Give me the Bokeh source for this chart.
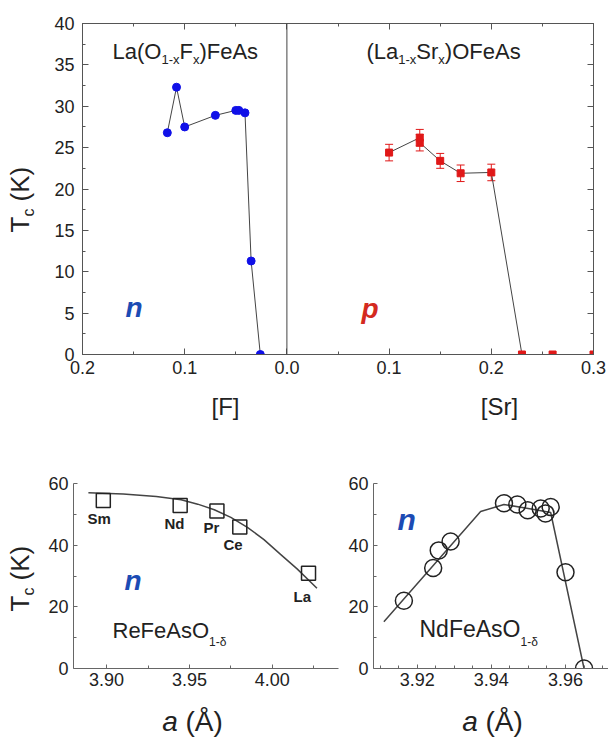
import math
from bokeh.plotting import figure
from bokeh.models import (Label, Span, Whisker, ColumnDataSource, FixedTicker, Range1d,
                          CustomJSTickFormatter, TeeHead, LinearAxis, NumeralTickFormatter)
from bokeh.layouts import column, row
from bokeh.embed import file_html
from bokeh.resources import INLINE

FONT = "Liberation Sans"

# ---------------- data ----------------
# La(O1-xFx)FeAs  (n-type, plotted to the left of 0)
f_conc = [0.117, 0.108, 0.100, 0.070, 0.050, 0.047, 0.041, 0.035, 0.026]
f_tc = [26.8, 32.3, 27.5, 28.9, 29.5, 29.5, 29.2, 11.3, 0.0]

# (La1-xSrx)OFeAs  (p-type)
sr_conc = [0.100, 0.130, 0.130, 0.150, 0.170, 0.200, 0.230, 0.260, 0.300]
sr_tc = [24.4, 26.2, 25.6, 23.4, 21.9, 22.0, 0.0, 0.0, 0.0]
sr_err = [1.0, 1.0, 1.0, 0.9, 1.0, 1.0, 0.0, 0.0, 0.0]

# ReFeAsO1-d
re_names = ["Sm", "Nd", "Pr", "Ce", "La"]
re_a = [3.898, 3.9444, 3.9666, 3.9804, 4.0219]
re_tc = [54.5, 52.9, 51.1, 45.9, 30.9]
re_fit_a = [3.889, 3.910, 3.930, 3.945, 3.955, 3.965, 3.975, 3.985, 3.995, 4.005, 4.015, 4.027]
re_fit_tc = [57.0, 56.6, 55.8, 54.7, 53.3, 51.5, 49.0, 45.8, 41.8, 37.0, 32.3, 26.0]

# NdFeAsO1-d
nd_a = [3.9164, 3.9243, 3.9258, 3.9290, 3.9434, 3.9470, 3.9498, 3.9533, 3.9546, 3.9560, 3.9600, 3.9650]
nd_tc = [22.0, 32.6, 38.3, 41.2, 53.6, 53.2, 51.3, 51.9, 50.3, 52.4, 31.2, 0.0]
nd_line_a = [3.911, 3.9371, 3.9434, 3.9515, 3.956, 3.9650]
nd_line_tc = [15.2, 50.9, 53.2, 51.6, 50.6, 0.0]

top_xticks = [-0.2, -0.1, 0.0, 0.1, 0.2, 0.3]
top_xminor = [-0.15, -0.05, 0.05, 0.15, 0.25]
top_yticks = [0, 5, 10, 15, 20, 25, 30, 35, 40]
top_yminor = [2.5, 7.5, 12.5, 17.5, 22.5, 27.5, 32.5, 37.5]
bl_xticks = [3.90, 3.95, 4.00]
bl_xminor = [3.925, 3.975, 4.025]
b_yticks = [0, 20, 40, 60]
b_yminor = [10, 30, 50]
br_xticks = [3.92, 3.94, 3.96]
br_xminor = [3.91, 3.915, 3.925, 3.93, 3.935, 3.945, 3.95, 3.955, 3.965, 3.97]

# ---------------- helpers ----------------
WID = {" ": 278, "(": 333, ")": 333, "-": 333, "1": 556, "A": 667, "F": 611, "K": 667,
       "L": 556, "N": 722, "O": 778, "R": 722, "S": 667, "T": 611, "[": 278, "]": 278,
       "a": 556, "c": 500, "d": 556, "e": 556, "r": 333, "s": 500, "x": 500, "δ": 556,
       "Å": 667}
KB = 0.35   # empirical baseline correction (fraction of font size)


def tw(s, size):
    return sum(WID.get(ch, 556) for ch in s) / 1000.0 * size


def seq(p, X0, Y0, x, y, pieces, rot=False):
    """pieces: (text, size, shift, style, color); text None = advance only.
    x, y are picture pixel coordinates; X0, Y0 the frame's left / bottom there."""
    for text, size, shift, style, color in pieces:
        if text is not None and text.strip():
            if rot:
                sx, sy = x + shift - KB * size - X0, Y0 - y
            else:
                sx, sy = x - X0, Y0 - (y + shift - KB * size)
            p.add_layout(Label(x=sx, y=sy, x_units="screen", y_units="screen", text=text,
                               text_font=FONT, text_font_size=f"{size}px",
                               text_font_style=style, text_color=color,
                               text_align="left", text_baseline="alphabetic",
                               angle=(math.pi / 2 if rot else 0)))
        adv = tw(text if text is not None else " ", size)
        if rot:
            y -= adv
        else:
            x += adv


def make_fig(w, h, xr, yr, ml, mr, mt, mb):
    p = figure(width=w, height=h, x_range=xr, y_range=yr, output_backend="svg",
               toolbar_location=None, tools="", min_border_left=ml, min_border_right=mr,
               min_border_top=mt, min_border_bottom=mb)
    p.grid.visible = False
    p.background_fill_color = "white"
    p.border_fill_color = "white"
    return p


def strip(w, h):
    p = figure(width=w, height=h, x_range=Range1d(0, w), y_range=Range1d(0, h),
               output_backend="svg", toolbar_location=None, tools="", title=None,
               x_axis_location=None, y_axis_location=None,
               min_border=0, min_border_left=0, min_border_right=0,
               min_border_top=0, min_border_bottom=0)
    p.grid.visible = False
    p.outline_line_color = None
    p.background_fill_color = "white"
    p.border_fill_color = "white"
    return p


BLANK = CustomJSTickFormatter(code="return '';")


def style_axis(ax, ticks, minor, fmt=None, standoff=8, labels=True, tin=6, mtin=3, col="#555"):
    ax.ticker = FixedTicker(ticks=ticks, minor_ticks=minor)
    ax.major_tick_in = tin
    ax.major_tick_out = 0
    ax.minor_tick_in = mtin
    ax.minor_tick_out = 0
    ax.axis_line_color = col
    ax.major_tick_line_color = col
    ax.minor_tick_line_color = col
    ax.major_label_text_font = FONT
    ax.major_label_text_font_size = "18px"
    ax.major_label_text_color = "#222"
    ax.major_label_standoff = standoff
    if fmt is not None:
        ax.formatter = fmt
    if not labels:
        ax.formatter = BLANK
        ax.major_label_standoff = 0


BLUE = "#1010e8"
RED = "#e01818"
NBLUE = "#1c4bb4"
PRED = "#d42a20"
LINE = "#444444"
TXT = "#222222"

# ---------------- top panel (page x 40..608, y 0..392) ----------------
top = make_fig(568, 392, Range1d(-0.2, 0.3), Range1d(0, 40), 42, 15, 23, 38)
top.outline_line_color = "#555"
absfmt = CustomJSTickFormatter(code="return Math.abs(tick).toFixed(1);")
style_axis(top.xaxis[0], top_xticks, top_xminor, fmt=absfmt, standoff=6)
style_axis(top.yaxis[0], top_yticks, top_yminor, standoff=8)
rax = LinearAxis()
style_axis(rax, top_yticks, top_yminor, labels=False)
top.add_layout(rax, "right")
tax = LinearAxis()
style_axis(tax, top_xticks, top_xminor, labels=False)
top.add_layout(tax, "above")

top.add_layout(Span(location=0, dimension="height", line_color=LINE, line_width=1))

f_src = ColumnDataSource(dict(x=[-v for v in f_conc], y=f_tc))
top.line("x", "y", source=f_src, line_color=LINE, line_width=1)
top.scatter("x", "y", source=f_src, marker="circle", size=8, fill_color=BLUE, line_color=BLUE)

sr_src = ColumnDataSource(dict(x=sr_conc, y=sr_tc))
top.line("x", "y", source=sr_src, line_color=LINE, line_width=1)
err_src = ColumnDataSource(dict(x=sr_conc[:6], lo=[t - e for t, e in zip(sr_tc[:6], sr_err[:6])],
                                hi=[t + e for t, e in zip(sr_tc[:6], sr_err[:6])]))
top.add_layout(Whisker(source=err_src, base="x", lower="lo", upper="hi", line_color=RED,
                       line_width=1,
                       upper_head=TeeHead(size=8, line_color=RED, line_width=1),
                       lower_head=TeeHead(size=8, line_color=RED, line_width=1)))
top.scatter("x", "y", source=sr_src, marker="square", size=7, fill_color=RED, line_color=RED)

X0, Y0 = 82, 354
seq(top, X0, Y0, 112, 59, [("La(O", 22, 0, "normal", TXT), ("1-x", 13, 5, "normal", TXT),
                           ("F", 22, 0, "normal", TXT), ("x", 13, 5, "normal", TXT),
                           (")FeAs", 22, 0, "normal", TXT)])
seq(top, X0, Y0, 366, 59, [("(La", 22, 0, "normal", TXT), ("1-x", 13, 5, "normal", TXT),
                           ("Sr", 22, 0, "normal", TXT), ("x", 13, 5, "normal", TXT),
                           (")OFeAs", 22, 0, "normal", TXT)])
seq(top, X0, Y0, 125, 317, [("n", 28, 0, "bold italic", NBLUE)])
seq(top, X0, Y0, 361, 318, [("p", 28, 0, "bold italic", PRED)])

# strip left of the top panel: y axis title (page x 0..40, y 0..420)
sA = strip(40, 420)
TCL = [("T", 26, 0, "normal", TXT), ("c", 16, 4.5, "normal", TXT),
       (None, 26, 0, "normal", TXT), ("(K)", 26, 0, "normal", TXT)]
seq(sA, 0, 420, 29, 232, TCL, rot=True)

# strip below the top panel: x axis titles (page x 40..608, y 392..420)
sB = strip(568, 28)
wF = tw("[F]", 24)
seq(sB, 40, 420, 183 - wF / 2, 414, [("[F]", 24, 0, "normal", TXT)])
wS = tw("[Sr]", 24)
seq(sB, 40, 420, 457 - wS / 2, 414, [("[Sr]", 24, 0, "normal", TXT)])

# ---------------- bottom left (page x 40..339, y 420..704) ----------------
bl = make_fig(299, 284, Range1d(3.88, 4.04), Range1d(0, 60), 33, 1, 63, 36)
bl.outline_line_color = None
style_axis(bl.xaxis[0], bl_xticks, bl_xminor, fmt=NumeralTickFormatter(format="0.00"), standoff=4,
           tin=4, mtin=3, col="#666")
style_axis(bl.yaxis[0], b_yticks, b_yminor, standoff=5, tin=4, mtin=3, col="#666")
bl.line(re_fit_a, re_fit_tc, line_color=LINE, line_width=1.5)
bl.scatter(re_a, re_tc, marker="square", size=14, fill_color=None, line_color=TXT, line_width=1.5)

X0, Y0 = 73, 668
for name, lx, ly in zip(re_names, [87, 164, 203, 223, 293], [523, 528, 532, 549, 601]):
    seq(bl, X0, Y0, lx, ly, [(name, 15, 0, "bold", TXT)])
seq(bl, X0, Y0, 124, 590, [("n", 28, 0, "bold italic", NBLUE)])
seq(bl, X0, Y0, 112, 638, [("ReFeAsO", 22, 0, "normal", TXT), ("1-δ", 12, 8, "normal", TXT)])

# ---------------- bottom right (page x 339..608, y 420..704) ----------------
br = make_fig(269, 284, Range1d(3.9082, 3.9716), Range1d(0, 60), 34, 0, 58, 36)
br.outline_line_color = None
style_axis(br.xaxis[0], br_xticks, br_xminor, fmt=NumeralTickFormatter(format="0.00"), standoff=4,
           tin=4, mtin=3, col="#666")
style_axis(br.yaxis[0], b_yticks, b_yminor, standoff=5, tin=4, mtin=3, col="#666")
br.line(nd_line_a, nd_line_tc, line_color=LINE, line_width=1.5)
br.scatter(nd_a, nd_tc, marker="circle", size=17, fill_color=None, line_color=TXT, line_width=1.5)

X0, Y0 = 373, 668
seq(br, X0, Y0, 397, 529, [("n", 30, 0, "bold italic", NBLUE)])
seq(br, X0, Y0, 419, 637, [("NdFeAsO", 23, 0, "normal", TXT), ("1-δ", 12, 9, "normal", TXT)])

# strip left of the bottom panels (page x 0..40, y 420..738)
sC = strip(40, 318)
seq(sC, 0, 738, 29, 611, TCL, rot=True)

# strip below the bottom panels (page x 40..608, y 704..738)
sD = strip(568, 34)
AL = [("a", 28, 0, "italic", TXT), (None, 28, 0, "normal", TXT), ("(Å)", 28, 0, "normal", TXT)]
wA = tw("a (Å)", 28)
seq(sD, 40, 738, 192 - wA / 2, 731, AL)
seq(sD, 40, 738, 492 - wA / 2, 731, AL)

layout = column(
    row(sA, column(top, sB, spacing=0), spacing=0),
    row(sC, column(row(bl, br, spacing=0), sD, spacing=0), spacing=0),
    spacing=0,
)
open("out.html", "w").write(file_html(layout, INLINE))
